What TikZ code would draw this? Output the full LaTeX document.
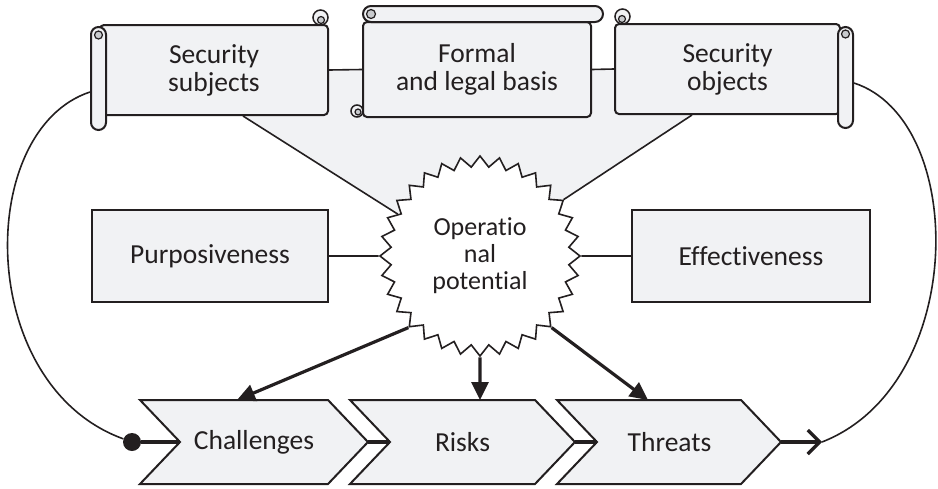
\documentclass[tikz,border=0pt]{standalone}
\usepackage{fontspec}
\setmainfont{Carlito}[Ligatures=NoCommon]
\usetikzlibrary{shapes.geometric,arrows.meta,backgrounds}
\definecolor{boxfill}{HTML}{F1F2F4}
\definecolor{curlfill}{HTML}{C9CBCE}
\definecolor{ink}{HTML}{231F20}
\begin{document}
\begin{tikzpicture}[x=1pt,y=-1pt,
  box/.style={draw=ink, line width=2pt, fill=boxfill},
  lbl/.style={font=\fontsize{27.5}{28}\selectfont, align=center, text=ink},
  conn/.style={draw=ink, line width=1.6pt},
  heavy/.style={draw=ink, line width=3.2pt},
  curl/.style={draw=ink, line width=1.2pt, fill=curlfill},
  headtri/.style={-{Triangle[length=18pt,width=17pt]}}]
\useasboundingbox (0,0) rectangle (938,488);

% --- scroll 1
\node[box, rounded corners=4pt, minimum width=228pt, minimum height=90pt, inner sep=0pt, lbl] (s1) at (214,70) {Security\\subjects};
\draw[box, line width=1.5pt] (320.5,17.5) circle (7.5);
\draw[curl] (321,20) circle (3.5);
\node[box, rounded corners=7.5pt, minimum width=15pt, minimum height=103pt, inner sep=0pt] (r1) at (98.5,78.5) {};
\draw[curl] (98.5,35) circle (4);

% --- scroll 2
\node[box, rounded corners=4pt, minimum width=228pt, minimum height=95pt, inner sep=0pt, lbl] (s2) at (477,69.5) {Formal\\and legal basis};
\node[box, rounded corners=8pt, minimum width=240pt, minimum height=16pt, inner sep=0pt] (r2) at (483,14) {};
\draw[curl] (371,14) circle (4.5);
\draw[box, line width=1.5pt] (357,111) circle (6);
\draw[curl] (358,112) circle (3);

% --- scroll 3
\node[box, rounded corners=4pt, minimum width=225pt, minimum height=90pt, inner sep=0pt, lbl] (s3) at (727.5,69) {Security\\objects};
\draw[box, line width=1.5pt] (622.5,16.5) circle (7.5);
\draw[curl] (622,19) circle (3.5);
\node[box, rounded corners=7.5pt, minimum width=15pt, minimum height=101pt, inner sep=0pt] (r3) at (845.5,77.5) {};
\draw[curl] (845.5,34) circle (4);

\draw[conn] (s1.east) -- (s2.west);
\draw[conn] (s2.east) -- (s3.west);

% --- star
\node[star, star points=32, star point ratio=1.12, minimum size=200pt, inner sep=0pt,
      draw=ink, line width=1.6pt, fill=white, lbl, font=\fontsize{26}{27}\selectfont] (op) at (480,256) {Operatio\\nal\\potential};

\begin{pgfonlayer}{background}
\fill[boxfill] ([xshift=29pt]s1.south) -- (s1.east) -- (s3.west) -- ([xshift=-35.5pt]s3.south) -- (op.34) -- (op.153) -- cycle;
\end{pgfonlayer}
\draw[conn] ([xshift=29pt]s1.south) -- (op.153);
\draw[conn] ([xshift=-35.5pt]s3.south) -- (op.34);

% --- side boxes
\node[box, minimum width=236pt, minimum height=92pt, inner sep=0pt, lbl] (pu) at (210,256) {Purposiveness};
\node[box, minimum width=238pt, minimum height=92pt, inner sep=0pt, lbl] (ef) at (751,256) {Effectiveness};
\draw[conn] (pu.east) -- (op.180);
\draw[conn] (ef.west) -- (op.0);

% --- chevrons
\draw[box] (140,400) -- (328,400) -- (368,442) -- (328,484) -- (140,484) -- (180,442) -- cycle;
\draw[box] (350,400) -- (535,400) -- (575,442) -- (535,484) -- (350,484) -- (390,442) -- cycle;
\draw[box] (557,400) -- (741,400) -- (781,442) -- (741,484) -- (557,484) -- (597,442) -- cycle;
\node[lbl] (ch) at (254,442) {Challenges};
\node[lbl] (ri) at (462.5,442) {Risks};
\node[lbl] (th) at (669.5,442) {Threats};
\coordinate (chN) at (180,442);
\coordinate (chT) at (368,442);
\coordinate (riN) at (390,442);
\coordinate (riT) at (575,442);
\coordinate (thN) at (597,442);
\coordinate (thT) at (781,442);
\coordinate (chTop) at (237,400);
\coordinate (riTop) at (480,400);
\coordinate (thTop) at (648,400);
\coordinate (ae) at (822,442);

\draw[heavy] (chT) -- (riN);
\draw[heavy] (riT) -- (thN);

% --- star arrows
\draw[heavy, headtri] (op.225) -- (chTop);
\draw[heavy, headtri] (op.270) -- (riTop);
\draw[heavy, headtri] (op.315) -- (thTop);

% --- feedback loops
\node[circle, fill=ink, inner sep=0pt, minimum size=18pt] (dot) at (132,442) {};
\draw[heavy] (dot) -- (chN);
\draw[conn] ([yshift=-13.5pt]r1.west) .. controls (-25,130) and (-25,385) .. (dot);
\draw[heavy, -{Straight Barb[length=12pt,width=24pt]}] (thT) -- (ae);
\draw[conn] ([yshift=-5.5pt]r3.east) .. controls (968,120) and (968,385) .. (ae);
\end{tikzpicture}
\end{document}
